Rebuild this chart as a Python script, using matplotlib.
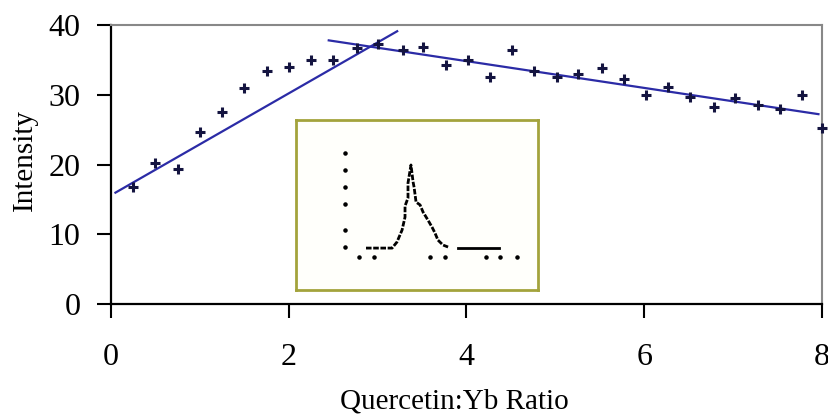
import numpy as np
import matplotlib.pyplot as plt

plt.rcParams['font.family'] = ['Liberation Serif', 'DejaVu Serif']

# Intensity vs quercetin:Yb ratio
ratio = [0.25, 0.5, 0.75, 1.0, 1.25, 1.5, 1.75, 2.0, 2.25, 2.5, 2.77, 3.0,
         3.28, 3.51, 3.77, 4.02, 4.27, 4.51, 4.76, 5.02, 5.26, 5.53, 5.77,
         6.02, 6.27, 6.52, 6.79, 7.02, 7.28, 7.53, 7.78, 8.0]
intensity = [16.8, 20.2, 19.3, 24.7, 27.5, 30.9, 33.4, 34.0, 35.0, 35.0, 36.7, 37.3,
             36.4, 36.9, 34.2, 35.0, 32.5, 36.4, 33.4, 32.6, 33.0, 33.9, 32.2,
             29.9, 31.1, 29.7, 28.3, 29.5, 28.5, 27.9, 29.9, 25.2]

# two linear trend lines: (intercept, slope, x start, x end)
rise_fit = (15.6, 7.3, 0.05, 3.22)
fall_fit = (42.5, -1.92, 2.45, 7.96)

x_ticks = [0, 2, 4, 6, 8]
y_ticks = [0, 10, 20, 30, 40]

# small spectrum shown in the inset
spec_x1 = [1.2, 1.45, 2.69, 2.97, 3.26, 3.43, 3.43, 3.6, 3.6, 3.77, 3.89, 3.95,
           4.06, 4.29, 4.46, 4.74, 4.97, 5.14, 5.31, 5.6, 5.89]
spec_y1 = [0.5, 0.5, 0.5, 0.84, 1.51, 2.24, 2.86, 3.31, 4.15, 5.16, 4.21, 3.9,
           3.08, 2.92, 2.52, 2.07, 1.68, 1.35, 0.95, 0.67, 0.56]
spec_x2 = [6.46, 8.8]
spec_y2 = [0.5, 0.5]
spec_ytick = [0.54, 1.51, 2.97, 3.94, 4.88, 5.85]
spec_xtick = [0.8, 1.66, 4.86, 5.71, 8.06, 8.86, 9.83]

line_color = '#2b2ba6'
point_color = '#141440'

fig = plt.figure(figsize=(8.29, 4.19), dpi=100)
ax = fig.add_axes([111 / 829, 1 - 304 / 419, 711 / 829, 279 / 419])

ax.plot(ratio, intensity, linestyle='none', marker='+', ms=7, mew=2.2,
        color=point_color, clip_on=False, zorder=4)

for b0, b1, xa, xb in (rise_fit, fall_fit):
    xs = np.array([xa, xb])
    ax.plot(xs, b0 + b1 * xs, color=line_color, lw=1.6, clip_on=False, zorder=3)

ax.set_xlim(0, 8)
ax.set_ylim(0, 40)
ax.set_xticks(x_ticks)
ax.set_yticks(y_ticks)
ax.tick_params(axis='both', direction='out', length=10, width=1.5,
               color='black', labelsize=23)
ax.tick_params(axis='x', pad=18)
ax.tick_params(axis='y', pad=12)
for side in ('left', 'bottom'):
    ax.spines[side].set_color('black')
    ax.spines[side].set_linewidth(1.6)
for side in ('top', 'right'):
    ax.spines[side].set_color('#888888')
    ax.spines[side].set_linewidth(1.5)

fig.text(25 / 829, 1 - 160 / 419, 'Intensity', rotation=90, fontsize=21,
         ha='center', va='center')
fig.text(454 / 829, 1 - 401 / 419, 'Quercetin:Yb Ratio', fontsize=21,
         ha='center', va='center')

# inset frame
box = fig.add_axes([296 / 829, 1 - 290 / 419, 242 / 829, 170 / 419])
box.set_xticks([])
box.set_yticks([])
box.set_facecolor('#fffffb')
for s in box.spines.values():
    s.set_color('#a3a33c')
    s.set_linewidth(2)

spec = fig.add_axes([345 / 829, 1 - 257 / 419, 175 / 829, 107 / 419])
spec.set_xlim(0, 10)
spec.set_ylim(0, 6)
spec.axis('off')
spec.plot(spec_x1, spec_y1, color='black', lw=2, ls=(0, (2, 0.6)))
spec.plot(spec_x2, spec_y2, color='black', lw=2)
spec.scatter([0] * len(spec_ytick), spec_ytick, s=5, color='black', clip_on=False)
spec.scatter(spec_xtick, [0] * len(spec_xtick), s=5, color='black', clip_on=False)

fig.savefig('out.png', dpi=100)
